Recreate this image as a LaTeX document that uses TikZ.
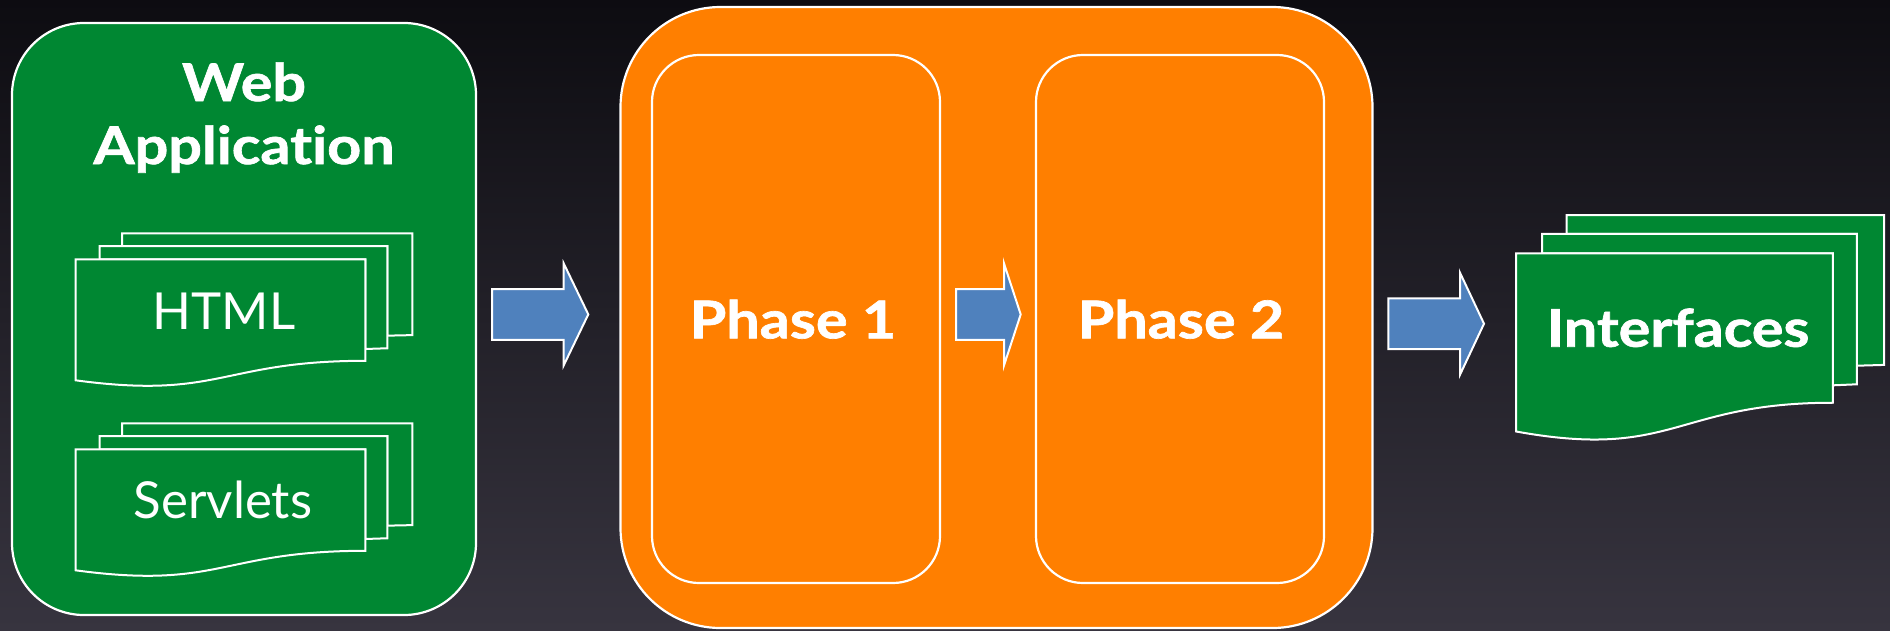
\documentclass[tikz,border=0pt]{standalone}
\usepackage{fontspec}
\setmainfont{Lato}[Ligatures=NoCommon,
  BoldFeatures={FakeBold=1.3, FakeStretch=1.14}]
\usetikzlibrary{positioning}

\definecolor{webgreen}{RGB}{0,135,50}
\definecolor{phaseorange}{RGB}{255,127,0}
\definecolor{flowblue}{RGB}{79,129,189}
\definecolor{bgtop}{RGB}{13,12,17}
\definecolor{bgbottom}{RGB}{55,52,63}

\tikzset{
  panel/.style={draw=white, line width=2.2pt, inner sep=0pt},
  apppanel/.style={panel, fill=webgreen, rounded corners=72pt,
    minimum width=464pt, minimum height=592pt},
  outerpanel/.style={panel, fill=phaseorange, rounded corners=100pt,
    minimum width=752pt, minimum height=621pt},
  phasepanel/.style={panel, fill=phaseorange, rounded corners=47pt,
    minimum width=288pt, minimum height=528pt},
  docsheet/.style={draw=white, line width=2pt, fill=webgreen},
  flowarrow/.style={draw=white, line width=2pt, fill=flowblue},
  titletext/.style={text=white, inner sep=0pt,
    font=\bfseries\fontsize{52}{60}\selectfont},
  plaintext/.style={text=white, inner sep=0pt,
    font=\fontsize{51}{60}\selectfont},
}

% stack of three sheets (back to front) inside the box x0,y0,w,h
\newcommand\docstack[4]{%
  \begin{scope}[shift={(#1,#2)}, xscale=#3/100, yscale=#4/100]
    \draw[docsheet] (13.76,8.40) -- (13.76,0) -- (100,0) -- (100,66.63)
      -- (92.59,66.98) -- (92.59,8.40) -- cycle;
    \draw[docsheet] (7.09,17.01) -- (7.09,8.40) -- (92.59,8.40) -- (92.59,75.24)
      -- (86.09,75.70) -- (86.09,17.01) -- cycle;
    \draw[docsheet] (0,17.01) -- (86.09,17.01) -- (86.09,83.44)
      .. controls (43.05,83.44) and (43.05,108.99) .. (0,96.21) -- cycle;
  \end{scope}}

% block arrow: tail x, head base x, tip x, centre y
\newcommand\blockarrow[4]{%
  \draw[flowarrow] (#1,#4-25.35) -- (#2,#4-25.35) -- (#2,#4-51) -- (#3,#4)
    -- (#2,#4+51) -- (#2,#4+25.35) -- (#1,#4+25.35) -- cycle;}

\begin{document}
\begin{tikzpicture}[x=1pt, y=-1pt]
  \useasboundingbox (0,0) rectangle (1890,630);
  \fill[top color=bgtop, bottom color=bgbottom] (0,0) rectangle (1890,630);

  % web application panel
  \node[apppanel] (webapp) at (244,319) {};
  \node[titletext, anchor=base] (web) at (244,101) {Web};
  \node[titletext, anchor=base] (app) at (244,164) {Application};

  \docstack{75.7}{233.3}{336.6}{152.8}
  \node[plaintext, anchor=base] (html) at (224,329) {HTML};
  \docstack{75.7}{423.3}{336.6}{152.8}
  \node[plaintext, anchor=base] (servlets) at (223,518.3) {Servlets};

  % processing panel with its two phases
  \node[outerpanel] (process) at (996.5,317.5) {};
  \node[phasepanel] (phase1) at (796,319) {};
  \node[phasepanel] (phase2) at (1180,319) {};
  \node[titletext, anchor=base] (p1) at (793,338.3) {Phase 1};
  \node[titletext, anchor=base] (p2) at (1181,338.3) {Phase 2};

  % generated interfaces
  \docstack{1516}{215}{368}{225}
  \node[titletext, anchor=base] (intf) at (1678,346.7) {Interfaces};

  % flow arrows
  \blockarrow{492}{563.7}{588.3}{314.4}
  \blockarrow{956}{1004}{1020.7}{314.4}
  \blockarrow{1388.3}{1460}{1484}{323.7}
\end{tikzpicture}
\end{document}
